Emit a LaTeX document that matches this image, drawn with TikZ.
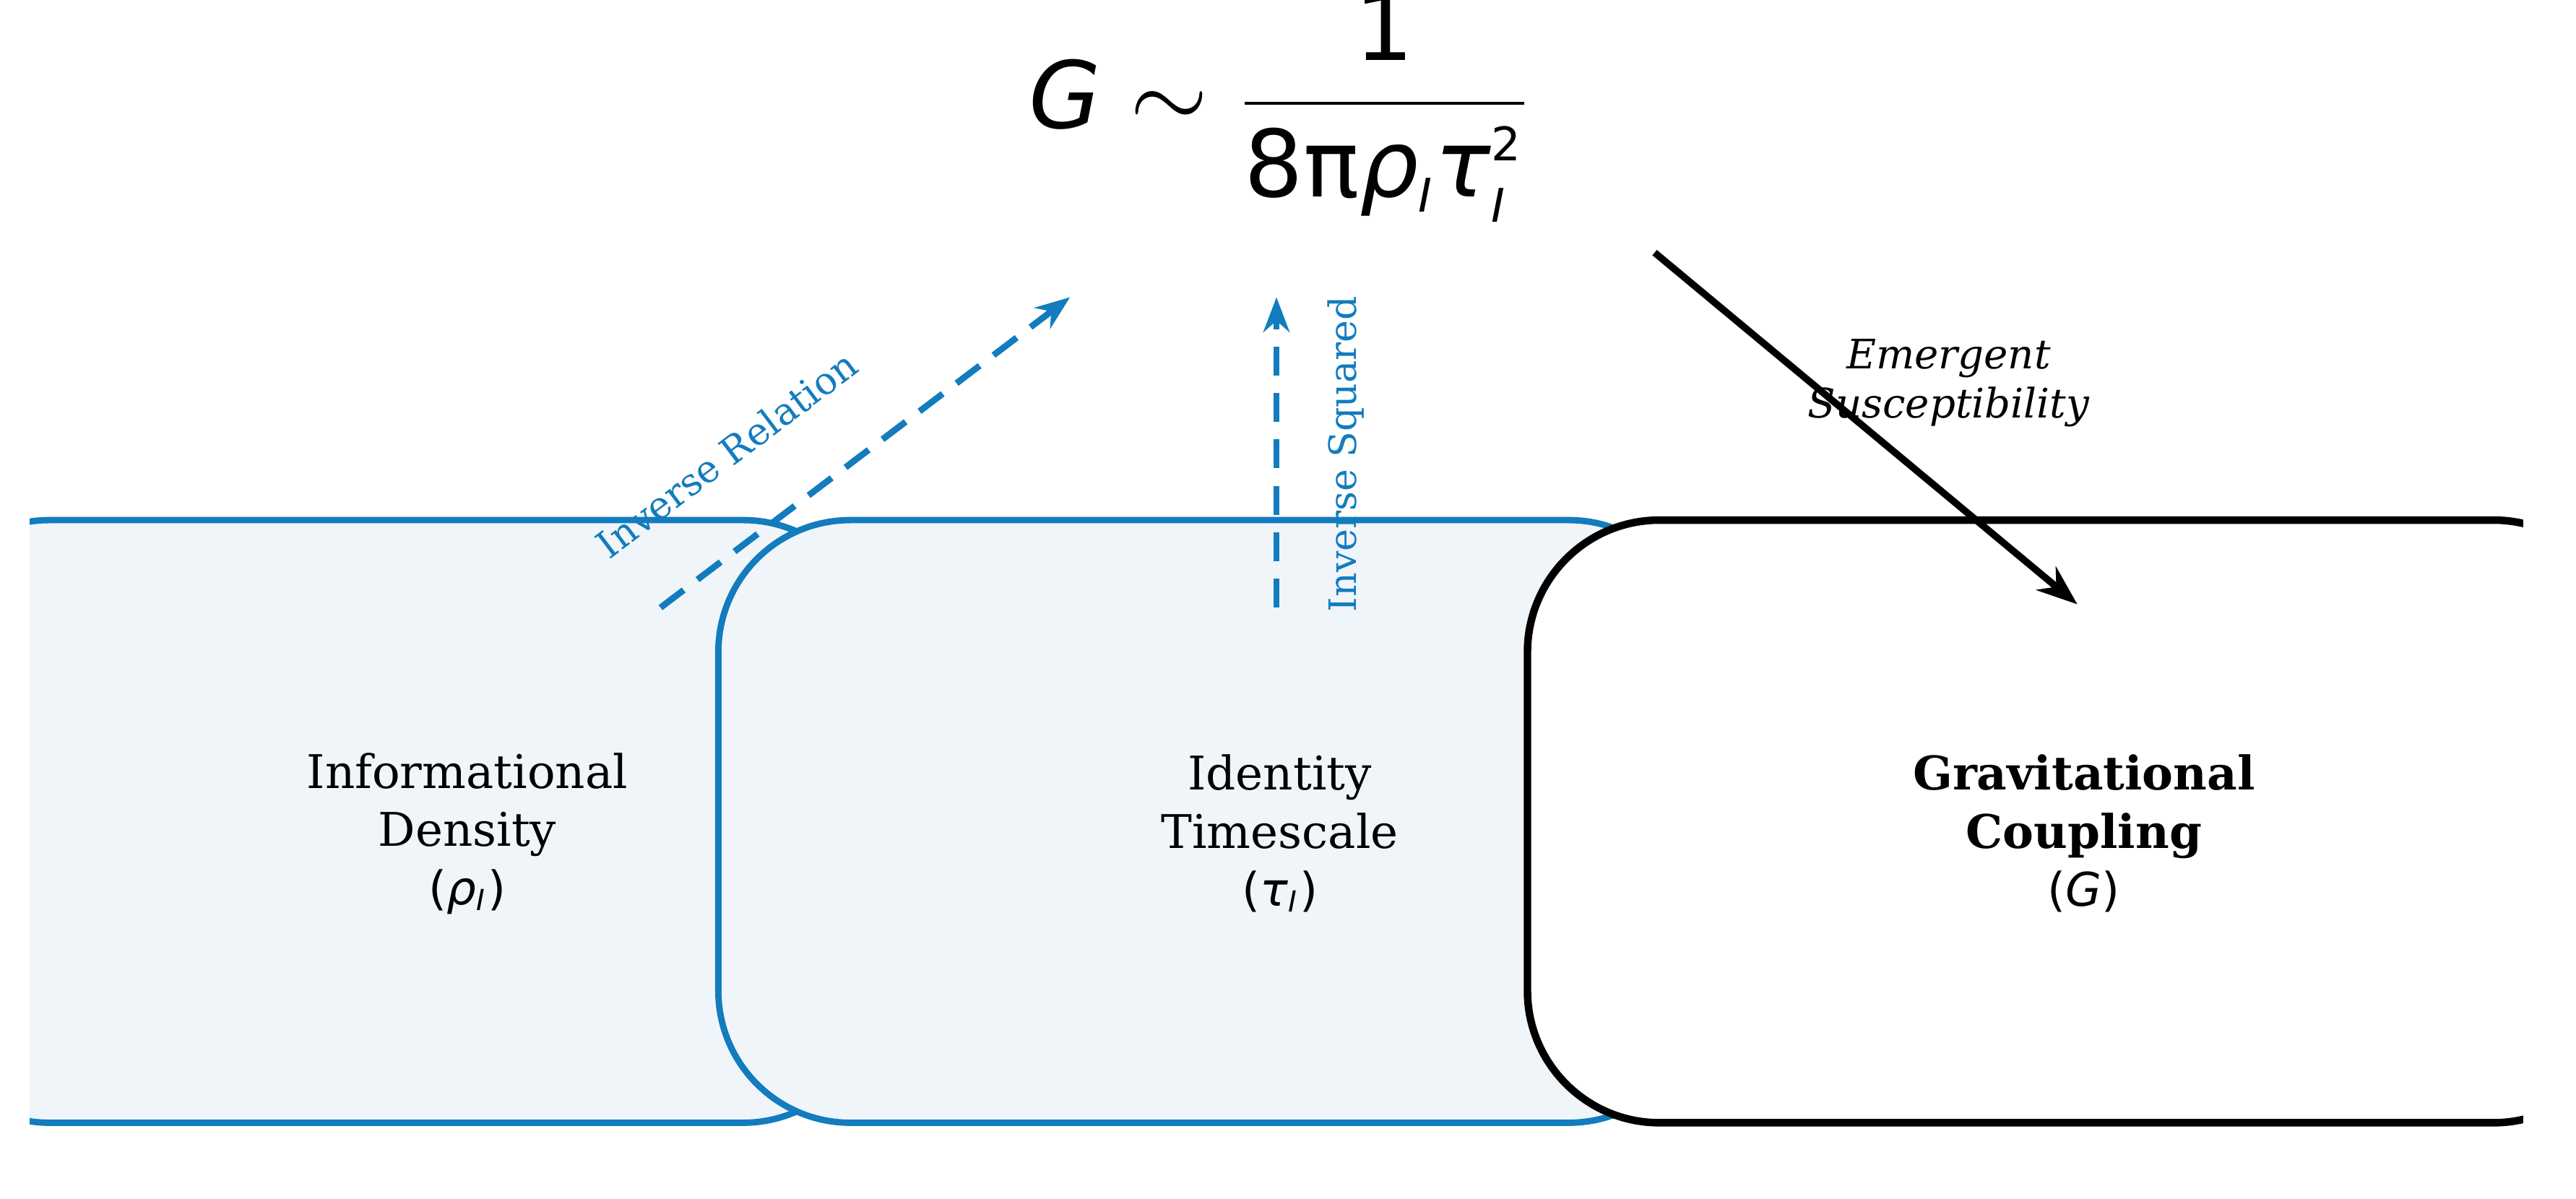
\documentclass[tikz,border=0pt]{standalone}
\usepackage{fontspec}
\setmainfont{DejaVu Serif}
\newfontfamily\dsans{DejaVu Sans}
\usetikzlibrary{arrows.meta}
\definecolor{cblue}{RGB}{18,124,190}
\definecolor{cfill}{RGB}{240,245,249}
\begin{document}
\begin{tikzpicture}[x=1cm,y=1cm,
  box/.style={draw=cblue,line width=1.1pt,fill=cfill,rounded corners=0.8cm},
  lbl/.style={font=\fontsize{8}{10}\selectfont,align=center},
  bluearrow/.style={cblue,line width=1.1pt,dash pattern=on 5pt off 3pt,-{Stealth[length=6pt]}},
  blbl/.style={cblue,font=\fontsize{6.5}{8}\selectfont}]
\useasboundingbox (0,0) rectangle (15.6,7.258);
\begin{scope}
  \clip (0.18,0) rectangle (15.28,7.258);
  \draw[box] (-0.5,0.458) rectangle (5.30,4.108);
  \draw[box] (4.35,0.458) rectangle (10.30,4.108);
  \draw[draw=black,line width=1.3pt,fill=white,rounded corners=0.8cm] (9.25,0.458) rectangle (15.9,4.108);
\end{scope}
\node[lbl] (rho) at (2.83,2.21) {Informational\\Density\\{\dsans(\textit{ρ}$_{\hbox{\dsans\itshape\fontsize{5}{5}\selectfont I}}$)}};
\node[lbl] (tau) at (7.75,2.21) {Identity\\Timescale\\{\dsans(\textit{τ}$_{\hbox{\dsans\itshape\fontsize{5}{5}\selectfont I}}$)}};
\node[lbl] (grav) at (12.62,2.21) {\textbf{Gravitational}\\\textbf{Coupling}\\{\dsans(\textit{G})}};
\node (eq) at (7.75,6.608) {\fontsize{16}{18}\selectfont\dsans\textit{G} $\sim$ $\displaystyle\frac{\hbox{\dsans 1}}{\hbox{\dsans 8π\textit{ρ}$_{\hbox{\dsans\itshape\fontsize{8}{8}\selectfont I}}$\textit{τ}$^{\hbox{\dsans\fontsize{8}{8}\selectfont 2}}_{\hbox{\dsans\itshape\fontsize{8}{8}\selectfont I}}$}}$};
\coordinate (a1) at (4.00,3.578); \coordinate (a2) at (6.48,5.458);
\coordinate (b1) at (7.73,3.578); \coordinate (b2) at (7.73,5.458);
\coordinate (c1) at (10.02,5.728); \coordinate (c2) at (12.58,3.598);
\draw[bluearrow] (a1) -- (a2);
\draw[bluearrow] (b1) -- (b2);
\draw[line width=1.2pt,-{Stealth[length=7pt]}] (c1) -- (c2);
\node[blbl,rotate=37] (l1) at (4.40,4.508) {Inverse Relation};
\node[blbl,rotate=90] (l2) at (8.15,4.508) {Inverse Squared};
\node[font=\fontsize{7}{8.5}\selectfont\itshape,align=center] (l3) at (11.80,4.938) {Emergent\\Susceptibility};
\end{tikzpicture}
\end{document}
